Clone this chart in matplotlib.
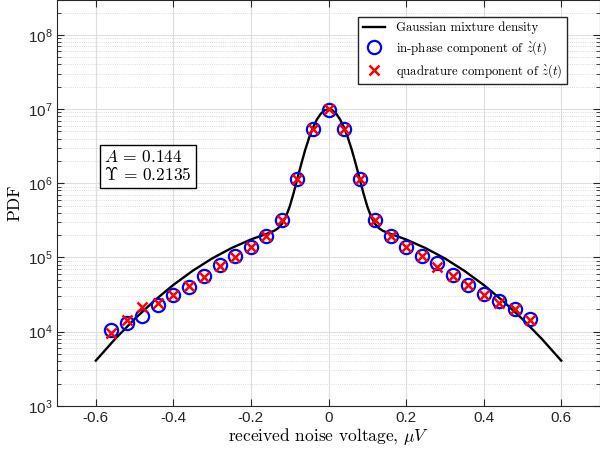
import numpy as np
import matplotlib
matplotlib.use('Agg')
import matplotlib.pyplot as plt
from matplotlib.font_manager import FontProperties
from matplotlib.ticker import LogLocator, FixedLocator, NullFormatter

plt.rcParams['font.family'] = 'Liberation Sans'
plt.rcParams['mathtext.fontset'] = 'custom'
plt.rcParams['mathtext.rm'] = 'Liberation Sans'
plt.rcParams['mathtext.it'] = 'Liberation Sans:italic'
plt.rcParams['mathtext.bf'] = 'Liberation Sans:bold'

# Gaussian mixture density curve
curve_x = [-0.60, -0.55, -0.50, -0.45, -0.40, -0.35, -0.30, -0.25, -0.20, -0.16,
           -0.14, -0.13, -0.12, -0.11, -0.10, -0.09, -0.08, -0.07, -0.06, -0.05,
           -0.04, -0.03, -0.02, -0.01, 0.0, 0.01, 0.02, 0.03, 0.04, 0.05, 0.06,
           0.07, 0.08, 0.09, 0.10, 0.11, 0.12, 0.13, 0.14, 0.16, 0.20, 0.25,
           0.30, 0.35, 0.40, 0.45, 0.50, 0.55, 0.60]
curve_y = [4.07e3, 8.0e3, 1.48e4, 2.59e4, 4.27e4, 6.63e4, 9.71e4, 1.34e5, 1.75e5, 2.08e5,
           2.29e5, 2.48e5, 2.83e5, 3.52e5, 4.87e5, 7.37e5, 1.17e6, 1.84e6, 2.83e6, 4.11e6,
           5.64e6, 7.23e6, 8.64e6, 9.63e6, 1.0e7, 9.63e6, 8.64e6, 7.23e6, 5.64e6, 4.11e6, 2.83e6,
           1.84e6, 1.17e6, 7.37e5, 4.87e5, 3.52e5, 2.83e5, 2.48e5, 2.29e5, 2.08e5, 1.75e5, 1.34e5,
           9.71e4, 6.63e4, 4.27e4, 2.59e4, 1.48e4, 8.0e3, 4.07e3]

# measured samples
pts_x = [-0.56, -0.52, -0.48, -0.44, -0.40, -0.36, -0.32, -0.28, -0.24, -0.20,
         -0.16, -0.12, -0.08, -0.04, 0.0, 0.04, 0.08, 0.12, 0.16, 0.20,
         0.24, 0.28, 0.32, 0.36, 0.40, 0.44, 0.48, 0.52]
inphase = [1.06e4, 1.32e4, 1.63e4, 2.27e4, 3.16e4, 4.06e4, 5.6e4, 7.8e4, 1.04e5, 1.38e5,
           1.97e5, 3.2e5, 1.15e6, 5.4e6, 9.8e6, 5.4e6, 1.15e6, 3.2e5, 1.97e5, 1.4e5,
           1.05e5, 8.3e4, 5.8e4, 4.2e4, 3.2e4, 2.6e4, 2.0e4, 1.47e4]
quadrature = [9.5e3, 1.42e4, 2.17e4, 2.4e4, 3.16e4, 4.1e4, 5.5e4, 7.7e4, 1.03e5, 1.38e5,
              1.97e5, 3.2e5, 1.15e6, 5.4e6, 9.9e6, 5.4e6, 1.15e6, 3.2e5, 1.95e5, 1.4e5,
              1.04e5, 7.5e4, 5.7e4, 4.2e4, 3.15e4, 2.45e4, 2.0e4, 1.45e4]

xticks = [-0.6, -0.4, -0.2, 0, 0.2, 0.4, 0.6]
xticklabels = ['-0.6', '-0.4', '-0.2', '0', '0.2', '0.4', '0.6']

fig = plt.figure(figsize=(6, 4.51), dpi=100)
ax = fig.add_axes([0.095, 0.1, 0.905, 0.9])

cmfont = FontProperties(family='cmr10', size=12.5, math_fontfamily='cm')
legfont = FontProperties(family='cmr10', size=9.2, math_fontfamily='cm')
boxfont = FontProperties(family='cmr10', size=12.5, math_fontfamily='cm')

ax.plot(curve_x, curve_y, '-', color='black', lw=1.7, label='Gaussian mixture density', zorder=3)
ax.plot(pts_x, inphase, 'o', mfc='none', mec='#0000ff', ms=9.5, mew=1.6,
        label=r'in-phase component of $\grave{z}(t)$', zorder=4)
ax.plot(pts_x, quadrature, 'x', color='#ff0000', ms=7, mew=1.8,
        label=r'quadrature component of $\grave{z}(t)$', zorder=5)

ax.set_yscale('log')
ax.set_xlim(-0.7, 0.7)
ax.set_ylim(1e3, 10**8.47)
ax.xaxis.set_major_locator(FixedLocator(xticks))
ax.set_xticklabels(xticklabels)
ax.yaxis.set_major_locator(LogLocator(base=10, numticks=10))
ax.yaxis.set_minor_locator(LogLocator(base=10, subs=np.arange(2, 10), numticks=20))
ax.yaxis.set_minor_formatter(NullFormatter())

ax.grid(True, which='major', color='#dedede', lw=0.8, ls='-')
ax.grid(True, which='minor', axis='y', color='#d0d0d0', lw=0.6, ls=':')
ax.set_axisbelow(True)

ax.tick_params(which='both', direction='in', top=True, right=True, colors='#262626',
               labelsize=11)
ax.tick_params(which='major', length=5)
ax.tick_params(which='minor', length=3)
for s in ax.spines.values():
    s.set_color('#262626')
    s.set_linewidth(0.8)

ax.set_xlabel(r'received noise voltage, $\mu V$', fontproperties=cmfont, labelpad=1)
ax.set_ylabel('PDF', fontproperties=cmfont, labelpad=4)

leg = ax.legend(loc='upper right', bbox_to_anchor=(0.939, 0.958), borderaxespad=0,
                prop=legfont, fancybox=False, framealpha=1, edgecolor='#262626',
                handlelength=1.7, handletextpad=0.9, borderpad=0.35, labelspacing=0.4)
leg.get_frame().set_linewidth(1.0)

ax.text(0.087, 0.59, '$A\\,=\\,0.144$\n$\\Upsilon\\,=\\,0.2135$',
        transform=ax.transAxes, fontproperties=boxfont,
        va='center', ha='left', linespacing=1.0,
        bbox=dict(boxstyle='square,pad=0.25', fc='white', ec='black', lw=1))

plt.savefig('out.png', dpi=100)
